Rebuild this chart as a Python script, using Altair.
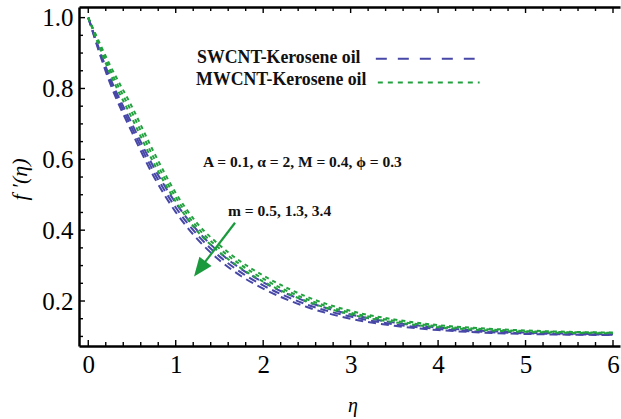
import altair as alt
import pandas as pd

# ---------------- data ----------------
eta = [0, 0.25, 0.5, 0.75, 1.0, 1.25, 1.5, 1.75, 2.0, 2.5, 3.0, 3.5, 4.0, 4.5, 5.0, 5.5, 6.0]
m_values = ["0.5", "1.3", "3.4"]

# SWCNT-Kerosene oil, m = 0.5, 1.3, 3.4
sw_m05 = [1.0, 0.830, 0.700, 0.577, 0.477, 0.398, 0.337, 0.290, 0.253, 0.198, 0.162, 0.139, 0.125, 0.116, 0.111, 0.108, 0.106]
sw_m13 = [1.0, 0.822, 0.688, 0.564, 0.464, 0.386, 0.326, 0.280, 0.244, 0.190, 0.156, 0.134, 0.121, 0.113, 0.109, 0.106, 0.105]
sw_m34 = [1.0, 0.814, 0.676, 0.551, 0.451, 0.374, 0.315, 0.270, 0.235, 0.183, 0.150, 0.130, 0.118, 0.111, 0.107, 0.105, 0.104]
# MWCNT-Kerosene oil, m = 0.5, 1.3, 3.4
mw_m05 = [1.0, 0.865, 0.748, 0.620, 0.505, 0.418, 0.358, 0.310, 0.272, 0.212, 0.172, 0.148, 0.132, 0.123, 0.117, 0.113, 0.111]
mw_m13 = [1.0, 0.853, 0.732, 0.604, 0.493, 0.407, 0.348, 0.301, 0.263, 0.205, 0.167, 0.144, 0.129, 0.121, 0.115, 0.112, 0.110]
mw_m34 = [1.0, 0.842, 0.716, 0.589, 0.481, 0.396, 0.338, 0.292, 0.255, 0.199, 0.162, 0.140, 0.126, 0.118, 0.113, 0.110, 0.109]

x_major = [0, 1, 2, 3, 4, 5, 6]
x_minor = [round(i * 0.2, 1) for i in range(31) if i % 5 != 0]
y_major = [0.2, 0.4, 0.6, 0.8, 1.0]
y_minor = [0.1, 0.15, 0.25, 0.3, 0.35, 0.45, 0.5, 0.55, 0.65, 0.7, 0.75, 0.85, 0.9, 0.95]

# legend / annotation anchors (data coordinates)
legend_names = ["SWCNT-Kerosene oil", "MWCNT-Kerosene oil"]
legend_text_x = [1.244, 1.233]
legend_text_y = [0.886, 0.825]
legend_line_x1 = [3.288, 3.311]
legend_line_x2 = [4.418, 4.475]
legend_line_y = [0.884, 0.817]

params_text = ["A = 0.1, α = 2, M = 0.4, ϕ = 0.3", "m = 0.5, 1.3, 3.4"]
params_x = [1.313, 1.598]
params_y = [0.593, 0.455]

arrow_start = [1.678, 0.421]
arrow_head = [1.310, 0.302]

# ---------------- styling ----------------
BLUE = "#4747a8"
GREEN = "#22a23f"
ARROW = "#1a9a3c"
FONT = "Liberation Serif"
W, H = 541, 339
X_DOMAIN = [-0.106, 6.08]
Y_DOMAIN = [0.073, 1.03]
MAJOR_LEN, MINOR_LEN = 6, 4

xs = alt.Scale(domain=X_DOMAIN, nice=False, zero=False)
ys = alt.Scale(domain=Y_DOMAIN, nice=False, zero=False)


def long_df(curves, fluid):
    rows = []
    for m, vals in zip(m_values, curves):
        for e, v in zip(eta, vals):
            rows.append({"eta": e, "f": v, "m": m, "fluid": fluid})
    return pd.DataFrame(rows)


df_sw = long_df([sw_m05, sw_m13, sw_m34], "SWCNT")
df_mw = long_df([mw_m05, mw_m13, mw_m34], "MWCNT")

common_axis = dict(
    domainColor="black", domainWidth=2.5, ticks=False,
    grid=False, labelFont=FONT, labelFontSize=25, labelColor="black",
    titleFont=FONT, titleColor="black", titleFontWeight="normal", titleFontStyle="italic",
)

x_axis_bottom = alt.Axis(
    orient="bottom", values=x_major, format="d",
    labelPadding=6, labelFlush=False, labelOverlap=False,
    title="η", titleFontSize=20, titleX=W / 2 + 3, titleY=59, titleBaseline="middle",
    titleAnchor="middle",
    **common_axis,
)
x_axis_top = alt.Axis(
    orient="top", values=x_major, labels=False, title=None, **common_axis,
)
y_axis_left = alt.Axis(
    orient="left", values=y_major, format=".1f",
    labelPadding=6, labelFlush=False, labelOverlap=False,
    title="f ′(η)", titleFontSize=22, titleAngle=270, titleX=-60, titleY=172,
    titleBaseline="middle", titleAlign="center",
    **common_axis,
)

blue_lines = alt.Chart(df_sw).mark_line(
    color=BLUE, strokeWidth=2, strokeDash=[8, 5], interpolate="monotone"
).encode(
    x=alt.X("eta:Q", scale=xs, axis=x_axis_bottom),
    y=alt.Y("f:Q", scale=ys, axis=y_axis_left),
    detail="m:N",
)

green_lines = alt.Chart(df_mw).mark_line(
    color=GREEN, strokeWidth=2, strokeDash=[4, 4], interpolate="monotone"
).encode(
    x=alt.X("eta:Q", scale=xs, axis=None),
    y=alt.Y("f:Q", scale=ys, axis=None),
    detail="m:N",
)

leg_df = pd.DataFrame({
    "name": legend_names, "tx": legend_text_x, "ty": legend_text_y,
    "x1": legend_line_x1, "x2": legend_line_x2, "ly": legend_line_y,
})

leg_blue = alt.Chart(leg_df.iloc[[0]]).mark_rule(
    color=BLUE, strokeWidth=2, strokeDash=[11, 11]
).encode(
    x=alt.X("x1:Q", scale=xs, axis=x_axis_top), x2="x2:Q",
    y=alt.Y("ly:Q", scale=ys, axis=None),
)
leg_green = alt.Chart(leg_df.iloc[[1]]).mark_rule(
    color=GREEN, strokeWidth=2, strokeDash=[5, 5]
).encode(
    x=alt.X("x1:Q", scale=xs, axis=None), x2="x2:Q",
    y=alt.Y("ly:Q", scale=ys, axis=None),
)
leg_text = alt.Chart(leg_df).mark_text(
    font=FONT, fontSize=17.8, fontWeight="bold", color="#111111",
    align="left", baseline="middle",
).encode(
    x=alt.X("tx:Q", scale=xs, axis=None),
    y=alt.Y("ty:Q", scale=ys, axis=None),
    text="name:N",
)

par_df = pd.DataFrame({"t": params_text, "x": params_x, "y": params_y})
par_text = alt.Chart(par_df).mark_text(
    font=FONT, fontSize=15.5, fontWeight="bold", color="#111111",
    align="left", baseline="middle",
).encode(
    x=alt.X("x:Q", scale=xs, axis=None),
    y=alt.Y("y:Q", scale=ys, axis=None),
    text="t:N",
)

arr_df = pd.DataFrame({
    "x": [arrow_start[0]], "y": [arrow_start[1]],
    "x2": [arrow_head[0]], "y2": [arrow_head[1]],
})
arrow_shaft = alt.Chart(arr_df).mark_rule(color=ARROW, strokeWidth=2.2).encode(
    x=alt.X("x:Q", scale=xs, axis=None), x2="x2:Q",
    y=alt.Y("y:Q", scale=ys, axis=None), y2="y2:Q",
)
arrow_tip = alt.Chart(arr_df).mark_point(
    shape="M0,1L-0.52,-0.3L0.52,-0.3Z", size=855, angle=37,
    filled=True, fill=ARROW, strokeWidth=0, opacity=1,
).encode(
    x=alt.X("x2:Q", scale=xs, axis=None),
    y=alt.Y("y2:Q", scale=ys, axis=None),
)


# inward-pointing tick marks, positioned by the shared scales
def x_ticks_layer(values, length, side):
    base = alt.Chart(pd.DataFrame({"v": values})).mark_rule(color="black", strokeWidth=1.4)
    if side == "bottom":
        return base.encode(x=alt.X("v:Q", scale=xs, axis=None),
                           y=alt.value(H), y2=alt.value(H - length))
    return base.encode(x=alt.X("v:Q", scale=xs, axis=None),
                       y=alt.value(0), y2=alt.value(length))


def y_ticks_layer(values, length):
    return alt.Chart(pd.DataFrame({"v": values})).mark_rule(color="black", strokeWidth=1.4).encode(
        y=alt.Y("v:Q", scale=ys, axis=None), x=alt.value(0), x2=alt.value(length))


ticks = [
    x_ticks_layer(x_major, MAJOR_LEN, "bottom"),
    x_ticks_layer(x_minor, MINOR_LEN, "bottom"),
    x_ticks_layer(x_major, MAJOR_LEN, "top"),
    x_ticks_layer(x_minor, MINOR_LEN, "top"),
    y_ticks_layer(y_major, MAJOR_LEN),
    y_ticks_layer(y_minor, MINOR_LEN),
]

chart = alt.layer(
    blue_lines, green_lines, leg_blue, leg_green, leg_text, par_text,
    arrow_shaft, arrow_tip, *ticks
).resolve_axis(x="independent", y="independent").properties(
    width=W, height=H,
    autosize="none",
    padding={"left": 79, "top": 7, "right": 1, "bottom": 73},
    background="white",
).configure_view(stroke=None)

chart.save("out.html", embed_options={"renderer": "svg", "actions": False})
